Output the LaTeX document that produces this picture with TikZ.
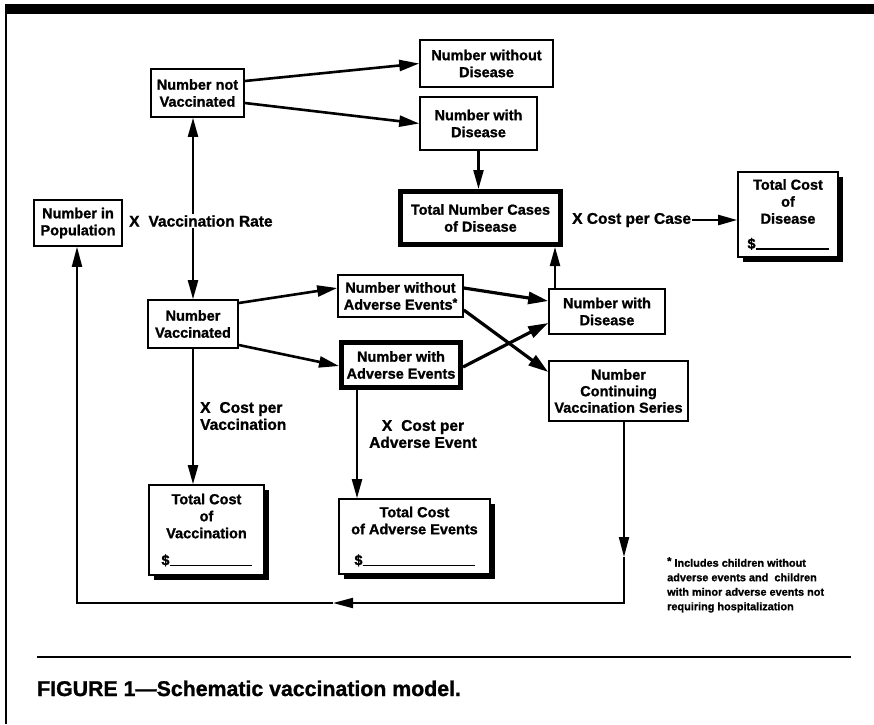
\documentclass[tikz,border=0pt]{standalone}
\usepackage{fontspec}
\setmainfont{Liberation Sans}[BoldFeatures={FakeBold=1.2}]
\usetikzlibrary{arrows.meta,shadows,calc}
\newcommand{\myast}{\raisebox{3pt}{\fontsize{12}{12}\selectfont *}}
\begin{document}
\begin{tikzpicture}[x=1pt,y=-1pt,
  box/.style={draw, line width=1.6pt, fill=white, align=center, inner sep=1pt,
    font=\bfseries\fontsize{14.5}{17}\selectfont},
  thickbox/.style={box, line width=5pt},
  costbox/.style={box, drop shadow={shadow xshift=5pt, shadow yshift=-5pt, fill=black, opacity=1}},
  lbl/.style={font=\bfseries\fontsize{15.5}{17}\selectfont, inner sep=1pt},
  arr/.style={line width=2.6pt, -{Triangle[length=20pt,width=11pt]}},
  darr/.style={line width=2.2pt, {Triangle[length=19pt,width=10pt]}-{Triangle[length=19pt,width=10pt]}},
  varr/.style={line width=2.2pt, -{Triangle[length=19pt,width=10pt]}},
  xarr/.style={line width=3.2pt, -{Triangle[length=20pt,width=12pt]}},
  larr/.style={line width=2pt, -{Triangle[length=20pt,width=10pt]}}
]
\useasboundingbox (0,0) rectangle (874,724);
% frame
\fill[black] (6,4) rectangle (874,14);
\draw[line width=1.5pt] (6,4) -- (6,724);
\draw[line width=1.5pt] (37,657) -- (851,657);
\node[anchor=base west, font=\bfseries\fontsize{21.3}{24}\selectfont, inner sep=0pt] (cap) at (37,696) {FIGURE 1\textemdash Schematic vaccination model.};

% boxes
\node[box, minimum width=93pt, minimum height=48pt] (nv) at (197.5,93) {Number not\\Vaccinated};
\node[box, minimum width=133pt, minimum height=47pt] (nwd) at (486.5,63.5) {Number without\\Disease};
\node[box, minimum width=117pt, minimum height=53pt] (wd1) at (478.5,123.5) {Number with\\Disease};
\node[thickbox, minimum width=160pt, minimum height=53pt] (tnc) at (480.5,218) {Total Number Cases\\of Disease};
\node[costbox, minimum width=100pt, minimum height=85pt] (tcd) at (788,214.5) {Total Cost\\of\\Disease\\[8pt]\$\rule[-1pt]{73pt}{1.3pt}};
\node[box, minimum width=88pt, minimum height=46pt] (pop) at (78,223) {Number in\\Population};
\node[box, minimum width=90pt, minimum height=48pt] (vac) at (193,324) {Number\\Vaccinated};
\node[box, minimum width=125pt, minimum height=42pt] (nwae) at (400.5,296) {Number without\\Adverse Events\myast};
\node[thickbox, minimum width=119pt, minimum height=45pt] (nae) at (401,365) {Number with\\Adverse Events};
\node[box, minimum width=116pt, minimum height=45pt] (wd2) at (607,311.5) {Number with\\Disease};
\node[box, minimum width=139pt, minimum height=60pt, font=\bfseries\fontsize{14.5}{16.5}\selectfont] (cont) at (618.5,391) {Number\\Continuing\\Vaccination Series};
\node[costbox, minimum width=115pt, minimum height=90pt] (tcv) at (206.5,530) {Total Cost\\of\\Vaccination\\[10pt]\$\rule[-1pt]{82pt}{1.3pt}};
\node[costbox, minimum width=151pt, minimum height=75pt] (tcae) at (414.5,536.5) {Total Cost\\of Adverse Events\\[14pt]\$\rule[-1pt]{112pt}{1.3pt}};

% labels
\node[lbl, anchor=west] (xcase) at (571,220) {X Cost per Case};
\node[lbl, align=left, anchor=west] (xvac) at (199,416) {X\hspace{9pt}Cost per\\Vaccination};
\node[lbl, align=center] (xae) at (423,434) {X\hspace{9pt}Cost per\\Adverse Event};
\node[anchor=north west, align=left, inner sep=0pt, font=\bfseries\fontsize{10.9}{14.5}\selectfont] (foot) at (667,557)
  {\raisebox{2pt}{*} Includes children without\\adverse events and\ \ children\\with minor adverse events not\\requiring hospitalization};

% connectors
\draw[arr] ([yshift=12pt]nv.east) -- (nwd.west);
\draw[arr] ([yshift=-10pt]nv.east) -- (wd1.west);
\draw[varr] (wd1.south) -- (wd1.south |- tnc.north);
\draw[darr] (vac.north |- nv.south) -- (vac.north);
\node[lbl, anchor=west, fill=white] (xrate) at (128,221) {X\hspace{9pt}Vaccination Rate};
\draw[varr] ([xshift=-52pt]wd2.north) -- ([xshift=-52pt]wd2.north |- tnc.south);
\draw[varr] (xcase.east) -- (xcase.east -| tcd.west);

\draw[arr] ([yshift=21pt]vac.east) -- ([yshift=8pt]nwae.west);
\draw[arr] ([yshift=-21pt]vac.east) -- ([yshift=-1pt]nae.west);
\draw[xarr] ([yshift=8pt]nwae.east) -- ([yshift=10.5pt]wd2.west);
\draw[xarr] ([yshift=-14pt]nwae.east) -- ([yshift=19pt]cont.west);
\draw[xarr] ([yshift=-2pt]nae.east) -- ([yshift=-11.5pt]wd2.west);

\draw[varr] (vac.south) -- (vac.south |- tcv.north);
\draw[varr] ([xshift=-44pt]nae.south) -- ([xshift=-44pt]nae.south |- tcae.north);

% loop back
\coordinate (c1) at (624,603);
\coordinate (c2) at (77,603);
\coordinate (m1) at (624,557);
\coordinate (m2) at (333,603);
\draw[larr] (cont.south -| c1) -- (m1);
\draw[larr] (m1) -- (c1) -- (m2);
\draw[larr] (m2) -- (c2) -- (c2 |- pop.south);
\end{tikzpicture}
\end{document}
